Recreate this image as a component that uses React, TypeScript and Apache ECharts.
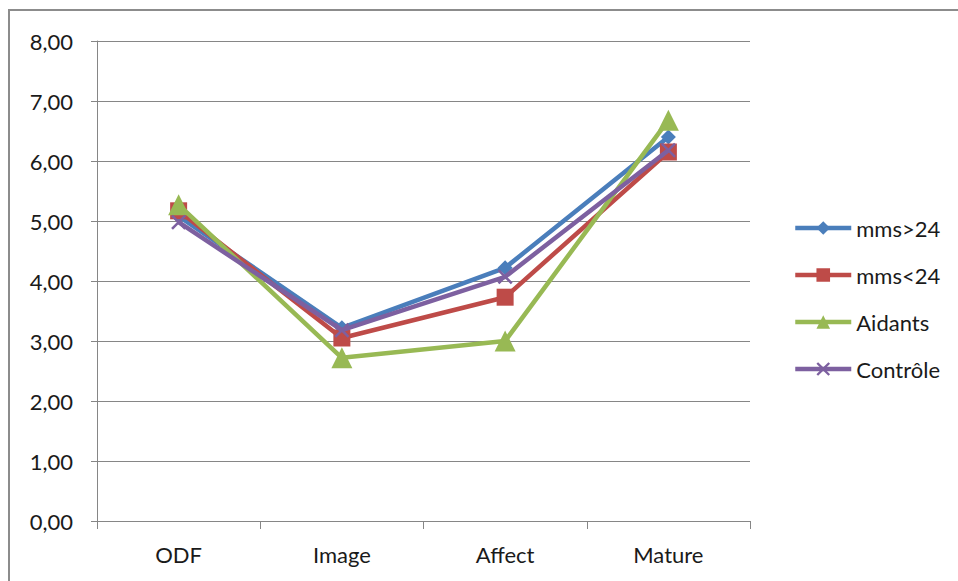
import React, { useEffect, useRef } from "react";
import * as echarts from "echarts";

const categories = ["ODF", "Image", "Affect", "Mature"];
const yTicks = [0, 1, 2, 3, 4, 5, 6, 7, 8];
const seriesNames = ["mms>24", "mms<24", "Aidants", "Contrôle"];
const mmsOver24 = [5.08, 3.22, 4.22, 6.4];
const mmsUnder24 = [5.17, 3.05, 3.73, 6.15];
const aidants = [5.27, 2.72, 3.0, 6.68];
const controle = [4.98, 3.18, 4.07, 6.18];

const colors = ["#4A7EBB", "#BE4B48", "#98B954", "#7D60A0"];
const xSymbol =
  "path://M0,1.2L1.2,0L5,3.8L8.8,0L10,1.2L6.2,5L10,8.8L8.8,10L5,6.2L1.2,10L0,8.8L3.8,5Z";

export default function App() {
  const ref = useRef<HTMLDivElement>(null);
  useEffect(() => {
    if (!ref.current) return;
    const chart = echarts.init(ref.current, undefined, { renderer: "svg" });
    const font = "Lato, 'Open Sans', sans-serif";
    const dataSets = [mmsOver24, mmsUnder24, aidants, controle];
    const symbols = ["diamond", "rect", "triangle", xSymbol];
    const sizes = [15, 17, 21, 15];
    chart.setOption({
      animation: false,
      backgroundColor: "#ffffff",
      textStyle: { fontFamily: font },
      graphic: [
        {
          type: "rect",
          shape: { x: 9, y: 10, width: 1000, height: 620 },
          style: { fill: "none", stroke: "#8c8c8c", lineWidth: 2 },
          silent: true,
        },
      ],
      grid: { left: 97, right: 208, top: 41, bottom: 60 },
      legend: {
        orient: "vertical",
        left: 788,
        top: 212,
        itemWidth: 56,
        itemHeight: 17,
        itemGap: 25,
        lineStyle: { width: 4.5 },
        textStyle: { fontSize: 22, color: "#1a1a1a", fontFamily: font },
        data: seriesNames,
      },
      xAxis: {
        type: "category",
        data: categories,
        boundaryGap: true,
        axisLine: { lineStyle: { color: "#868686", width: 1 } },
        axisTick: { show: true, length: 8, lineStyle: { color: "#868686" } },
        axisLabel: { fontSize: 22, color: "#1a1a1a", margin: 22, fontFamily: font },
      },
      yAxis: {
        type: "value",
        min: 0,
        max: 8,
        interval: 1,
        axisLine: { show: true, lineStyle: { color: "#868686", width: 1 } },
        axisTick: { show: true, length: 6, lineStyle: { color: "#868686" } },
        splitLine: { show: true, lineStyle: { color: "#868686", width: 1 } },
        axisLabel: {
          fontSize: 22,
          color: "#1a1a1a",
          margin: 24,
          fontFamily: font,
          formatter: (v: number) =>
            yTicks.includes(v) ? v.toFixed(2).replace(".", ",") : "",
        },
      },
      series: seriesNames.map((name, i) => ({
        name,
        type: "line",
        data: dataSets[i],
        symbol: symbols[i],
        symbolSize: sizes[i],
        showSymbol: true,
        lineStyle: { color: colors[i], width: 4.5 },
        itemStyle: { color: colors[i] },
        z: 2 + i,
      })),
    });
    return () => chart.dispose();
  }, []);
  return (
    <div
      ref={ref}
      style={{ position: "fixed", left: 0, top: 0, width: 958, height: 581 }}
    />
  );
}
